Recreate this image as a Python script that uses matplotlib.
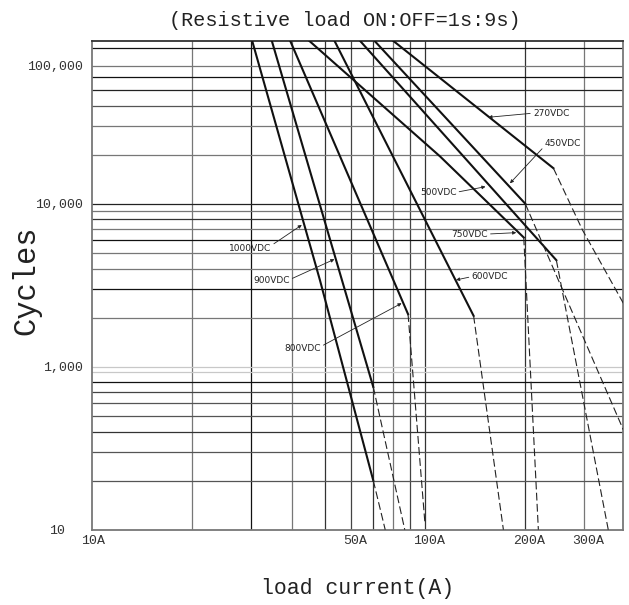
import matplotlib
matplotlib.use('Agg')
import matplotlib.pyplot as plt
from matplotlib import transforms
from matplotlib.ticker import NullLocator

plt.rcParams['font.family'] = ['Liberation Mono', 'DejaVu Sans']

# life curves (amps, cycles)
volt_labels = ['1000VDC', '900VDC', '800VDC', '750VDC', '600VDC', '500VDC', '450VDC', '270VDC']
solid_amps = [[30.3, 48.4, 70], [34.7, 70], [39.4, 89], [44.9, 111, 198],
              [53.5, 140], [63.8, 248], [70.5, 200], [80.2, 243]]
solid_cycles = [[100000, 3400, 200], [100000, 750], [100000, 2100], [100000, 19500, 6200],
                [100000, 2050], [100000, 4500], [100000, 10000], [100000, 16500]]
dash_amps = [[70, 76], [70, 87], [89, 100], [198, 219],
             [140, 172], [248, 355], [200, 394], [243, 297, 394]]
dash_cycles = [[200, 100], [750, 100], [2100, 110], [6200, 100],
               [2050, 100], [4500, 100], [10000, 410], [16500, 6900, 2450]]

# where each label sits and the point its arrow touches
label_xy = [(25.8, 5320), (30.5, 3375), (37.8, 1294), (120, 6510),
            (138, 3565), (96.6, 11750), (229, 23230), (211, 35900)]
arrow_xy = [(42.7, 7400), (53.5, 4560), (85.1, 2449), (188, 6640),
            (124, 3404), (152, 12710), (180, 13330), (155, 33880)]
arrow_rel = [(1, 0.8), (1, 0.6), (1, 0.7), (1, 0.5), (0, 0.5), (1, 0.5), (0, 0.3), (0, 0.5)]

x_ticks = [10, 60, 100, 200, 300]
x_tick_labels = ['10A', '50A', '100A', '200A', '300A']
y_ticks = [100, 1000, 10000, 70000]
y_tick_labels = ['10', '1,000', '10,000', '100,000']

v_grid = [20, 30, 40, 50, 60, 70, 80, 90, 100, 200, 300]
v_grid_c = ['#777', '#111', '#777', '#333', '#444', '#333', '#777', '#444', '#333', '#333', '#777']
h_grid = [90000, 70000, 60000, 50000, 40000, 30000, 20000, 10000, 9000, 8000, 7000, 6000,
          5000, 4000, 3000, 2000, 1000, 930, 800, 700, 600, 500, 400, 300, 200]
h_grid_c = ['#111', '#777', '#111', '#222', '#555', '#777', '#777', '#222', '#777', '#333',
            '#777', '#111', '#777', '#777', '#111', '#777', '#c8c8c8', '#c8c8c8', '#111',
            '#444', '#555', '#555', '#333', '#555', '#555']

fig = plt.figure(figsize=(6.29, 6.05), dpi=100)
ax = fig.add_axes([0.1458, 0.1245, 0.8452, 0.8083])
ax.set_xscale('log')
ax.set_yscale('log')
ax.set_xlim(10, 394)
ax.set_ylim(100, 100000)

for v, c in zip(v_grid, v_grid_c):
    ax.axvline(v, color=c, lw=0.9, zorder=1)
for v, c in zip(h_grid, h_grid_c):
    ax.axhline(v, color=c, lw=0.9, zorder=1)

for xs, ys in zip(solid_amps, solid_cycles):
    ax.plot(xs, ys, color='#111', lw=1.5, zorder=3)
for xs, ys in zip(dash_amps, dash_cycles):
    ax.plot(xs, ys, color='#222', lw=0.8, ls=(0, (7, 3)), zorder=3)

for lab, txy, axy, rp in zip(volt_labels, label_xy, arrow_xy, arrow_rel):
    ax.annotate(lab, xy=axy, xytext=txy, ha='left', va='center', fontsize=6.5,
                family='DejaVu Sans', color='#222', zorder=4,
                arrowprops=dict(arrowstyle='-|>', lw=0.6, color='#222',
                                mutation_scale=5, relpos=rp, shrinkA=0, shrinkB=0))

for s in ax.spines.values():
    s.set_color('#777')
    s.set_linewidth(1.3)
ax.spines['top'].set_color('#333')

ax.set_xticks(x_ticks, x_tick_labels)
ax.set_yticks(y_ticks, y_tick_labels)
ax.xaxis.set_minor_locator(NullLocator())
ax.yaxis.set_minor_locator(NullLocator())
ax.tick_params(length=0, labelsize=9.5, labelcolor='#333')
ax.tick_params(axis='x', pad=4)
ax.tick_params(axis='y', pad=6)

# the printed tick labels sit a little off their lines
for i, t in enumerate(ax.get_xticklabels()):
    dx = 1 if i == 0 else 4
    t.set_transform(t.get_transform() + transforms.ScaledTranslation(dx / 100, 0, fig.dpi_scale_trans))
yl = ax.get_yticklabels()[0]
yl.set_transform(yl.get_transform() + transforms.ScaledTranslation(-18 / 100, 0, fig.dpi_scale_trans))

ax.set_ylabel('Cycles', fontsize=22, color='#222')
ax.yaxis.set_label_coords(-0.1236, 0.5106)
ax.yaxis.label.set_va('center')
ax.set_xlabel('load current(A)', fontsize=15.5, color='#222')
ax.xaxis.set_label_coords(0.5, -0.1213)
ax.xaxis.label.set_va('center')

fig.text(345 / 629, 1 - 20 / 605, '(Resistive load ON:OFF=1s:9s)', ha='center', va='center',
         fontsize=14.5, color='#222')

fig.savefig('out.png', dpi=100)
